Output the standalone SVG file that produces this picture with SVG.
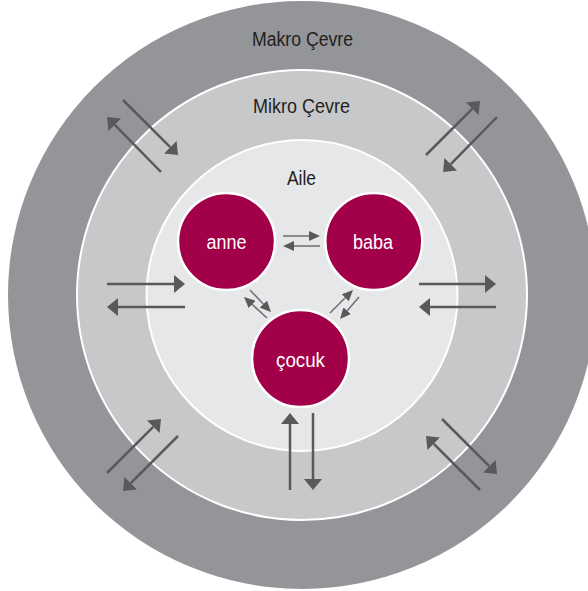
<svg xmlns="http://www.w3.org/2000/svg" width="588" height="591" viewBox="0 0 588 591">
<defs>
<style>
.ring{stroke:#ffffff;stroke-width:2}
.lbl{font-family:"Liberation Sans Narrow","Liberation Sans",Arial,sans-serif;font-size:20px;fill:#231f20;text-anchor:middle}
.node circle{fill:#a3004a;stroke:#ffffff;stroke-width:2.5}
.node text{font-family:"Liberation Sans Narrow","Liberation Sans",Arial,sans-serif;font-size:20px;fill:#ffffff;text-anchor:middle}
.big{stroke:#58595b;stroke-width:2.5;fill:none;marker-end:url(#hb)}
.small{stroke:#6d6e71;stroke-width:1.5;fill:none;marker-end:url(#hs)}
</style>
<marker id="hb" viewBox="0 0 11 18" markerWidth="11" markerHeight="18" refX="0" refY="9" orient="auto" markerUnits="userSpaceOnUse">
<path d="M0,0 L11,9 L0,18 Z" fill="#58595b"/>
</marker>
<marker id="hs" viewBox="0 0 11 10" markerWidth="11" markerHeight="10" refX="0" refY="5" orient="auto" markerUnits="userSpaceOnUse">
<path d="M0,0 L11,5 L0,10 Z" fill="#58595b"/>
</marker>
</defs>
<g id="makro">
<circle cx="302" cy="295" r="294" fill="#939598"/>
<text class="lbl" x="302.5" y="46" textLength="101" lengthAdjust="spacingAndGlyphs">Makro Çevre</text>
</g>
<g id="mikro">
<circle class="ring" cx="302" cy="295" r="225" fill="#c7c8ca"/>
<text class="lbl" x="301.5" y="113" textLength="97" lengthAdjust="spacingAndGlyphs">Mikro Çevre</text>
</g>
<g id="aile">
<circle class="ring" cx="302" cy="295.5" r="155.5" fill="#e6e7e8"/>
<text class="lbl" x="301.5" y="185" textLength="29" lengthAdjust="spacingAndGlyphs">Aile</text>
</g>
<g id="connectors">
<line class="big" x1="123" y1="100" x2="170.2" y2="147.2"/>
<line class="big" x1="161" y1="172" x2="114.8" y2="124.8"/>
<line class="big" x1="426" y1="155" x2="472.2" y2="108.8"/>
<line class="big" x1="497" y1="117" x2="450.8" y2="164.2"/>
<line class="big" x1="107" y1="473" x2="153.2" y2="426.8"/>
<line class="big" x1="178" y1="436" x2="130.8" y2="483.2"/>
<line class="big" x1="442" y1="419" x2="489.2" y2="466.2"/>
<line class="big" x1="480" y1="490" x2="433.8" y2="443.8"/>
<line class="big" x1="290" y1="490" x2="290" y2="424"/>
<line class="big" x1="313" y1="413" x2="313" y2="479"/>
<line class="big" x1="107" y1="284" x2="174" y2="284"/>
<line class="big" x1="185" y1="307" x2="118" y2="307"/>
<line class="big" x1="419" y1="284" x2="485" y2="284"/>
<line class="big" x1="496" y1="307" x2="430" y2="307"/>
<line class="small" x1="283" y1="236" x2="309" y2="236"/>
<line class="small" x1="320" y1="246" x2="294" y2="246"/>
<line class="small" x1="250" y1="290" x2="263.4" y2="304.1"/>
<line class="small" x1="267" y1="318" x2="252.1" y2="304.4"/>
<line class="small" x1="330" y1="313" x2="345.2" y2="297.8"/>
<line class="small" x1="359" y1="297" x2="347.2" y2="310.7"/>
</g>
<g id="anne" class="node">
<circle cx="226.5" cy="241.5" r="48.5"/>
<text x="226.5" y="248.5" textLength="40" lengthAdjust="spacingAndGlyphs">anne</text>
</g>
<g id="baba" class="node">
<circle cx="373.8" cy="241.5" r="48.5"/>
<text x="373" y="248.5" textLength="40" lengthAdjust="spacingAndGlyphs">baba</text>
</g>
<g id="cocuk" class="node">
<circle cx="300.5" cy="358.5" r="48.5"/>
<text x="300.5" y="366.5" textLength="49" lengthAdjust="spacingAndGlyphs">çocuk</text>
</g>
</svg>
